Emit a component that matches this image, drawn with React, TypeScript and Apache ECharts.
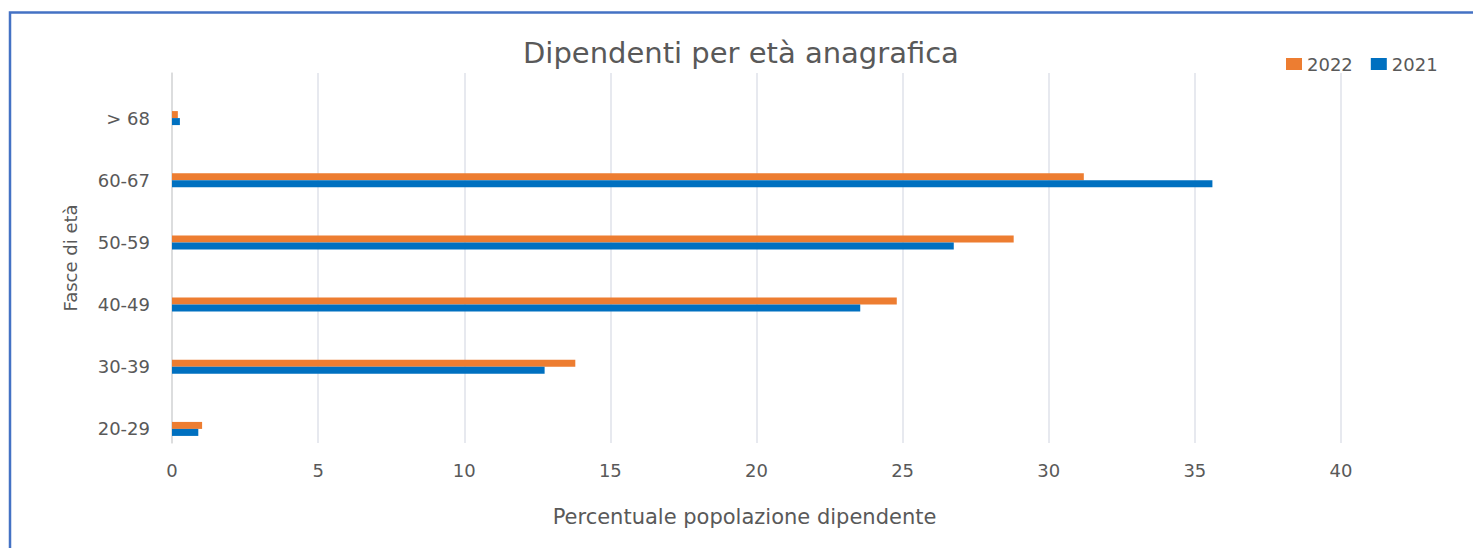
import React, { useEffect, useRef } from "react";
import * as echarts from "echarts";

const categories = ["20-29", "30-39", "40-49", "50-59", "60-67", "> 68"];
const values2022 = [1.03, 13.8, 24.8, 28.8, 31.2, 0.2];
const values2021 = [0.9, 12.75, 23.55, 26.75, 35.6, 0.27];
const xTicks = { min: 0, max: 40, interval: 5 };

const FONT = "'DejaVu Sans', 'Open Sans', sans-serif";
const TXT = "#595959";

export default function App() {
  const ref = useRef<HTMLDivElement>(null);
  useEffect(() => {
    if (!ref.current) return;
    const chart = echarts.init(ref.current, undefined, { renderer: "svg" });
    chart.setOption({
      animation: false,
      backgroundColor: "#ffffff",
      textStyle: { fontFamily: FONT },
      title: {
        text: "Dipendenti per età anagrafica",
        left: 518,
        top: 33,
        textStyle: { fontFamily: FONT, fontSize: 29, fontWeight: "normal", color: TXT },
      },
      legend: {
        data: ["2022", "2021"],
        left: 1281,
        top: 50,
        itemWidth: 16,
        itemHeight: 12,
        itemGap: 18,
        icon: "rect",
        textStyle: { fontFamily: FONT, fontSize: 18, color: TXT },
      },
      graphic: [
        {
          type: "polyline",
          shape: { points: [[10, 560], [10, 12.5], [1490, 12.5]] },
          style: { fill: "none", stroke: "#4472C4", lineWidth: 2.5 },
          silent: true,
        },
      ],
      grid: [
        { left: 172, right: 132, top: 73, bottom: 105 },
        { left: 172, right: 132, top: 87, bottom: 88 },
      ],
      xAxis: [
        {
          gridIndex: 0,
          type: "value",
          min: xTicks.min,
          max: xTicks.max,
          interval: xTicks.interval,
          axisLine: { show: false },
          axisTick: { show: false },
          splitLine: { show: true, lineStyle: { color: "#dfe2ea", width: 1.5 } },
          axisLabel: { color: TXT, fontSize: 18, fontFamily: FONT, margin: 18 },
          name: "Percentuale popolazione dipendente",
          nameLocation: "middle",
          nameGap: 63,
          nameTextStyle: { color: TXT, fontSize: 21, fontFamily: FONT, padding: [0, 24, 0, 0] },
        },
        {
          gridIndex: 1,
          type: "value",
          min: xTicks.min,
          max: xTicks.max,
          interval: xTicks.interval,
          show: false,
        },
      ],
      yAxis: [
        {
          gridIndex: 0,
          type: "value",
          min: 0,
          max: 1,
          axisLine: { show: true, lineStyle: { color: "#d9d9d9", width: 1.5 } },
          axisTick: { show: false },
          axisLabel: { show: false },
          splitLine: { show: false },
          name: "Fasce di età",
          nameLocation: "middle",
          nameGap: 93,
          nameTextStyle: { color: TXT, fontSize: 18, fontFamily: FONT },
        },
        {
          gridIndex: 1,
          type: "category",
          data: categories,
          axisLine: { show: false },
          axisTick: { show: false },
          splitLine: { show: false },
          axisLabel: { color: TXT, fontSize: 18, fontFamily: FONT, margin: 22 },
        },
      ],
      series: [
        {
          name: "2022",
          type: "bar",
          xAxisIndex: 1,
          yAxisIndex: 1,
          data: values2022,
          barWidth: 7,
          barGap: "0%",
          itemStyle: { color: "#ED7D31" },
        },
        {
          name: "2021",
          type: "bar",
          xAxisIndex: 1,
          yAxisIndex: 1,
          data: values2021,
          barWidth: 7,
          barGap: "0%",
          itemStyle: { color: "#0070C0" },
        },
      ],
    });
    return () => chart.dispose();
  }, []);
  return (
    <div
      ref={ref}
      style={{ position: "absolute", left: 0, top: 0, width: 1473, height: 548 }}
    />
  );
}
